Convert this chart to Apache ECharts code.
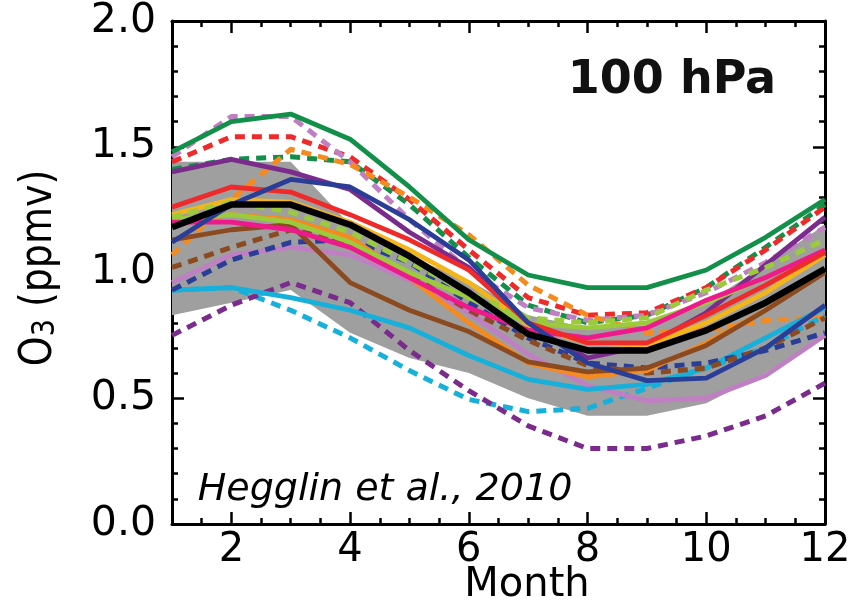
<!DOCTYPE html>
<html>
<head>
<meta charset="utf-8">
<script src="https://cdn.jsdelivr.net/npm/echarts@6/dist/echarts.min.js"></script>
<style>
html,body{margin:0;padding:0;background:#fff;}
#c{width:855px;height:604px;}
</style>
</head>
<body>
<div id="c"></div>
<script>
const months = [1,2,3,4,5,6,7,8,9,10,11,12];
const xMajorTicks = [2,4,6,8,10,12];
const xMinorTicks = [1.5,2.5,3,3.5,4.5,5,5.5,6.5,7,7.5,8.5,9,9.5,10.5,11,11.5];

const obsHigh = [1.44,1.44,1.44,1.19,1.06,0.97,0.83,0.78,0.79,0.88,1.03,1.19];
const obsLow  = [0.83,0.88,0.93,0.76,0.66,0.60,0.50,0.43,0.43,0.48,0.60,0.75];

const greenSolid   = [1.48,1.60,1.63,1.53,1.34,1.13,0.99,0.94,0.94,1.01,1.14,1.29];
const violetDashed = [1.46,1.62,1.62,1.44,1.21,1.01,0.86,0.81,0.83,0.92,1.04,1.18];
const redDashed    = [1.44,1.54,1.54,1.46,1.29,1.09,0.90,0.83,0.84,0.94,1.09,1.26];
const orangeDashed = [1.07,1.29,1.49,1.43,1.30,1.15,0.95,0.83,0.76,0.77,0.81,0.82];
const greenDashed  = [1.41,1.45,1.46,1.44,1.27,1.06,0.87,0.80,0.83,0.94,1.10,1.27];
const purpleSolid  = [1.40,1.45,1.40,1.33,1.16,1.02,0.79,0.66,0.71,0.84,1.03,1.22];
const blueSolid    = [1.12,1.27,1.37,1.34,1.21,1.05,0.80,0.64,0.57,0.58,0.70,0.87];
const redSolid     = [1.26,1.34,1.32,1.23,1.13,1.01,0.80,0.72,0.72,0.83,0.95,1.08];
const yellowSolid  = [1.23,1.29,1.28,1.20,1.09,0.96,0.79,0.72,0.71,0.80,0.92,1.07];
const limeDashed   = [1.22,1.28,1.24,1.16,1.04,0.92,0.82,0.80,0.82,0.93,1.02,1.13];
const limeSolid    = [1.21,1.23,1.20,1.12,1.00,0.90,0.80,0.78,0.80,0.88,0.98,1.09];
const orangeSolid  = [1.20,1.23,1.21,1.14,0.98,0.80,0.64,0.585,0.61,0.72,0.85,1.01];
const pinkSolid    = [1.20,1.20,1.17,1.10,0.98,0.86,0.77,0.74,0.78,0.89,0.98,1.09];
const brownSolid   = [1.13,1.17,1.19,0.96,0.85,0.765,0.645,0.605,0.62,0.71,0.85,1.00];
const brownDashed  = [1.02,1.10,1.17,1.12,0.99,0.85,0.73,0.63,0.60,0.62,0.70,0.82];
const blueDashed   = [0.93,1.05,1.12,1.13,1.04,0.88,0.74,0.64,0.62,0.64,0.69,0.76];
const violetSolid  = [0.96,1.07,1.10,1.07,0.97,0.84,0.675,0.55,0.49,0.50,0.59,0.75];
const cyanSolid    = [0.93,0.94,0.90,0.85,0.78,0.67,0.575,0.535,0.555,0.62,0.74,0.86];
const cyanDashed   = [0.93,0.94,0.85,0.74,0.61,0.495,0.447,0.46,0.54,0.62,0.70,0.83];
const purpleDashed = [0.75,0.87,0.96,0.88,0.69,0.53,0.39,0.30,0.30,0.35,0.43,0.56];
const modelMean    = [1.18,1.27,1.27,1.19,1.065,0.92,0.755,0.69,0.69,0.77,0.88,1.015];

const FONT = 'DejaVu Sans';
const lines = [
  {name:'green dashed', d:greenDashed, c:'#12904a', dash:true},
  {name:'red dashed', d:redDashed, c:'#ee2b2a', dash:true},
  {name:'violet dashed', d:violetDashed, c:'#c07fc3', dash:true},
  {name:'orange dashed', d:orangeDashed, c:'#f58a1f', dash:true},
  {name:'green', d:greenSolid, c:'#12904a'},
  {name:'purple', d:purpleSolid, c:'#7a2b8c'},
  {name:'cyan dashed', d:cyanDashed, c:'#16b0da', dash:true},
  {name:'purple dashed', d:purpleDashed, c:'#7a2b8c', dash:true},
  {name:'violet', d:violetSolid, c:'#c07fc3'},
  {name:'cyan', d:cyanSolid, c:'#16b0da'},
  {name:'blue dashed', d:blueDashed, c:'#2a3e97', dash:true},
  {name:'brown dashed', d:brownDashed, c:'#8b4a20', dash:true},
  {name:'yellow', d:yellowSolid, c:'#f3b51b'},
  {name:'orange', d:orangeSolid, c:'#f58a1f'},
  {name:'brown', d:brownSolid, c:'#8b4a20'},
  {name:'lime', d:limeSolid, c:'#9bcb3c'},
  {name:'lime dashed', d:limeDashed, c:'#9bcb3c', dash:true},
  {name:'pink', d:pinkSolid, c:'#ee1a8c'},
  {name:'red', d:redSolid, c:'#ee2b2a'},
  {name:'blue', d:blueSolid, c:'#2a3e97'},
  {name:'mean', d:modelMean, c:'#000000', w:6.5}
];

const chart = echarts.init(document.getElementById('c'), null, {renderer:'canvas'});

const axisLineStyle = {color:'#000', width:3};
function xAx(pos, ticks, len, showLine, showLabel){
  return {
    type:'value', min:1, max:12, position:pos,
    axisLine:{show:showLine, onZero:false, lineStyle:axisLineStyle},
    axisTick:{show:true, inside:true, length:len, customValues:ticks, lineStyle:{color:'#000', width:2.5}},
    axisLabel:{show:showLabel, customValues:ticks, fontSize:40, fontFamily:FONT, color:'#000', margin:7},
    splitLine:{show:false}
  };
}
function yAx(pos, showLabel){
  return {
    type:'value', min:0, max:2, interval:0.5, position:pos,
    axisLine:{show:true, onZero:false, lineStyle:axisLineStyle},
    axisTick:{show:true, inside:true, length:12, lineStyle:{color:'#000', width:2.5}},
    minorTick:{show:true, splitNumber:5, length:6, lineStyle:{color:'#000', width:2.5}},
    axisLabel:{show:showLabel, fontSize:41, fontFamily:FONT, color:'#000', margin:16,
      formatter:function(v){return v.toFixed(1);}},
    splitLine:{show:false}, minorSplitLine:{show:false}
  };
}

const series = [{
  type:'custom', name:'observations', xAxisIndex:0, yAxisIndex:0, z:1,
  data:[[0]],
  renderItem:function(params, api){
    const pts = [];
    for (let i=0;i<months.length;i++) pts.push(api.coord([months[i], obsHigh[i]]));
    for (let i=months.length-1;i>=0;i--) pts.push(api.coord([months[i], obsLow[i]]));
    return {type:'polygon', shape:{points:pts}, style:{fill:'#9f9f9f'}};
  },
  silent:true
}];
lines.forEach(function(l, k){
  series.push({
    type:'line', name:l.name, xAxisIndex:0, yAxisIndex:0, z:2+k,
    data: months.map(function(m,i){return [m, l.d[i]];}),
    showSymbol:false, symbol:'none', smooth:false, animation:false,
    lineStyle:{color:l.c, width:l.w||(l.dash?5:4.8), type: l.dash ? [10,7] : 'solid', cap:'butt'}
  });
});

chart.setOption({
  animation:false,
  backgroundColor:'#fff',
  grid:{left:172, right:30, top:21, bottom:80, containLabel:false},
  xAxis:[
    xAx('bottom', xMajorTicks, 12, true, true),
    xAx('bottom', xMinorTicks, 6, false, false),
    xAx('top', xMajorTicks, 12, true, false),
    xAx('top', xMinorTicks, 6, false, false)
  ],
  yAxis:[ yAx('left', true), yAx('right', false) ],
  series: series,
  graphic:[
    {type:'text', x:672, y:81, z:100, style:{text:'100 hPa', font:'bold 46px "DejaVu Sans"', fill:'#111', align:'center', verticalAlign:'middle'}},
    {type:'text', x:385, y:490, z:100, style:{text:'Hegglin et al., 2010', font:'italic 38px "DejaVu Sans"', fill:'#000', align:'center', verticalAlign:'middle'}},
    {type:'text', x:527, y:586, z:100, style:{text:'Month', font:'40px "DejaVu Sans"', fill:'#000', align:'center', verticalAlign:'middle'}},
    {type:'text', x:36, y:268, rotation:Math.PI/2, scaleY:1.15, z:100, style:{
      text:'{a|O}{b|3}{a| (ppmv)}', align:'center', verticalAlign:'middle', fill:'#000',
      rich:{
        a:{fontSize:38, fontFamily:FONT, fill:'#000', color:'#000', lineHeight:44, verticalAlign:'bottom'},
        b:{fontSize:27, fontFamily:FONT, fill:'#000', color:'#000', lineHeight:30, verticalAlign:'bottom', padding:[20,0,0,0]}
      }
    }}
  ]
});
</script>
</body>
</html>
